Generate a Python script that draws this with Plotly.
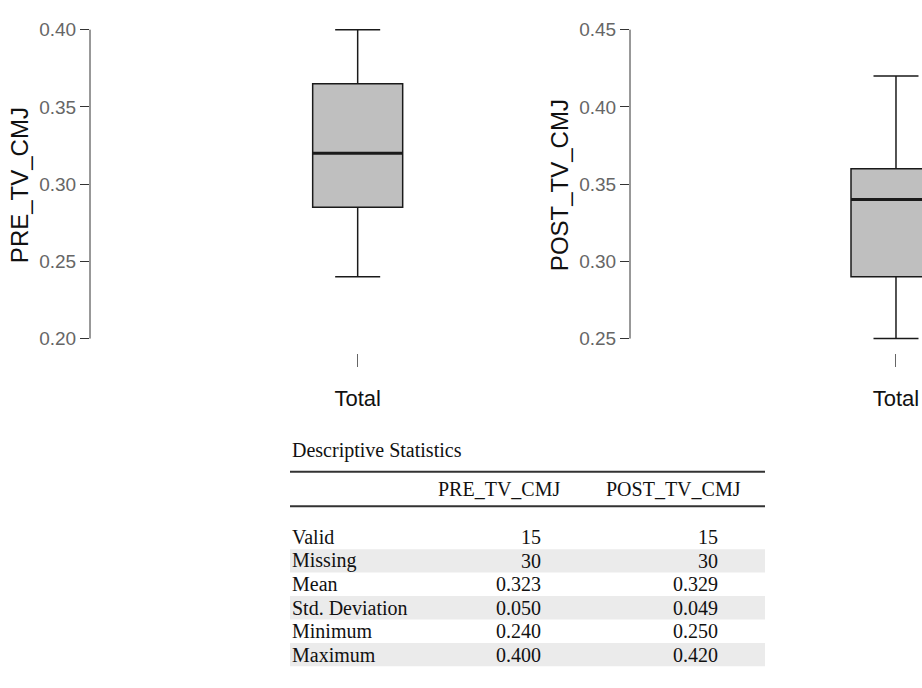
import plotly.graph_objects as go

# Box summaries (minimum, quartiles, maximum) for each measurement
pre_min, pre_q1, pre_median, pre_q3, pre_max = 0.240, 0.285, 0.320, 0.365, 0.400
post_min, post_q1, post_median, post_q3, post_max = 0.250, 0.290, 0.340, 0.360, 0.420

group_label = "Total"
pre_ticks = [0.20, 0.25, 0.30, 0.35, 0.40]
post_ticks = [0.25, 0.30, 0.35, 0.40, 0.45]

# Descriptive statistics table
table_title = "Descriptive Statistics"
col_headers = ["PRE_TV_CMJ", "POST_TV_CMJ"]
row_labels = ["Valid", "Missing", "Mean", "Std. Deviation", "Minimum", "Maximum"]
pre_stats = ["15", "30", "0.323", "0.050", "0.240", "0.400"]
post_stats = ["15", "30", "0.329", "0.049", "0.250", "0.420"]

W, H = 922, 688


def px(x):
    return x / W


def py(y):
    return 1 - y / H


def yrange(ticks, top_px=25, bottom_px=338, dom_top=20, dom_bottom=345):
    scale = (ticks[-1] - ticks[0]) / (bottom_px - top_px)
    return [ticks[0] - (dom_bottom - bottom_px) * scale,
            ticks[-1] + (top_px - dom_top) * scale]


box_fill = "#bfbfbf"
line_col = "#1a1a1a"
sans = "Liberation Sans, Arial, sans-serif"
serif = "Liberation Serif, Times New Roman, serif"

fig = go.Figure()

fig.add_trace(go.Box(
    x=[group_label], q1=[pre_q1], median=[pre_median], q3=[pre_q3],
    lowerfence=[pre_min], upperfence=[pre_max],
    width=1, whiskerwidth=0.5, fillcolor=box_fill,
    line=dict(color=line_col, width=1.5), boxpoints=False,
    xaxis="x", yaxis="y", showlegend=False, hoverinfo="skip",
))
fig.add_trace(go.Box(
    x=[group_label], q1=[post_q1], median=[post_median], q3=[post_q3],
    lowerfence=[post_min], upperfence=[post_max],
    width=1, whiskerwidth=0.5, fillcolor=box_fill,
    line=dict(color=line_col, width=1.5), boxpoints=False,
    xaxis="x2", yaxis="y2", showlegend=False, hoverinfo="skip",
))

ydom = [py(345), py(20)]
x_pos = py(353)

common_x = dict(
    type="category", showline=False, showgrid=False, zeroline=False,
    ticks="outside", ticklen=13, tickwidth=1, tickcolor="#666",
    tickfont=dict(family=sans, size=22, color="#111"),
    anchor="free", position=x_pos, ticklabelstandoff=12, fixedrange=True,
)
common_y = dict(
    showline=False, showgrid=False, zeroline=False,
    ticks="outside", ticklen=9, tickwidth=1, tickcolor="#333",
    tickfont=dict(family=sans, size=19, color="#666"),
    domain=ydom, fixedrange=True,
)

fig.update_layout(
    width=W, height=H,
    margin=dict(l=0, r=0, t=0, b=0),
    paper_bgcolor="white", plot_bgcolor="white",
    xaxis=dict(common_x, domain=[px(90), px(470)], range=[-2.974, 1.248]),
    xaxis2=dict(common_x, domain=[px(630), 1.0], range=[-2.956, 0.289]),
    yaxis=dict(common_y, anchor="x", range=yrange(pre_ticks),
               tickvals=pre_ticks, ticktext=[f"{t:.2f}" for t in pre_ticks],
               title=dict(text="PRE_TV_CMJ", standoff=3,
                          font=dict(family=sans, size=24, color="#111"))),
    yaxis2=dict(common_y, anchor="x2", range=yrange(post_ticks),
                tickvals=post_ticks, ticktext=[f"{t:.2f}" for t in post_ticks],
                title=dict(text="POST_TV_CMJ", standoff=3,
                           font=dict(family=sans, size=24, color="#111"))),
)

shapes = []
# axis spines spanning only the tick range
for xr, yr, ticks in (("x", "y", pre_ticks), ("x2", "y2", post_ticks)):
    shapes.append(dict(type="line", xref=f"{xr} domain", yref=yr,
                       x0=0, x1=0, y0=ticks[0], y1=ticks[-1],
                       line=dict(color="#333", width=1)))
# heavier median bars
for xr, yr, med in (("x", "y", pre_median), ("x2", "y2", post_median)):
    shapes.append(dict(type="line", xref=xr, yref=yr,
                       x0=-0.5, x1=0.5, y0=med, y1=med,
                       line=dict(color=line_col, width=3)))

# table geometry
tab_left, tab_right = 290, 765
row_top = 539.5
row_step = 23.75
col_right = [543, 720]
col_center = [499, 673.5]

for i in range(len(row_labels)):
    if i % 2 == 1:
        yc = row_top + i * row_step
        shapes.append(dict(type="rect", xref="paper", yref="paper",
                           x0=px(tab_left), x1=px(tab_right),
                           y0=py(yc + row_step / 2), y1=py(yc - row_step / 2),
                           fillcolor="#ebebeb", line=dict(width=0), layer="below"))
for yl in (473, 508):
    shapes.append(dict(type="line", xref="paper", yref="paper",
                       x0=px(tab_left), x1=px(tab_right), y0=py(yl), y1=py(yl),
                       line=dict(color="#333", width=2)))

annotations = [dict(text=table_title, xref="paper", yref="paper",
                    x=px(tab_left), y=py(451), xanchor="left", yanchor="middle",
                    showarrow=False, font=dict(family=serif, size=20, color="#111"))]
for j, h in enumerate(col_headers):
    annotations.append(dict(text=h, xref="paper", yref="paper",
                            x=px(col_center[j]), y=py(490), xanchor="center",
                            yanchor="middle", showarrow=False,
                            font=dict(family=serif, size=20, color="#111")))
for i, lab in enumerate(row_labels):
    yc = py(row_top + i * row_step)
    annotations.append(dict(text=lab, xref="paper", yref="paper",
                            x=px(tab_left), y=yc, xanchor="left", yanchor="middle",
                            showarrow=False,
                            font=dict(family=serif, size=20, color="#111")))
    for j, vals in enumerate((pre_stats, post_stats)):
        annotations.append(dict(text=vals[i], xref="paper", yref="paper",
                                x=px(col_right[j]), y=yc, xanchor="right",
                                yanchor="middle", showarrow=False,
                                font=dict(family=serif, size=20, color="#111")))

fig.update_layout(shapes=shapes, annotations=annotations)

fig.write_html("out.html")
